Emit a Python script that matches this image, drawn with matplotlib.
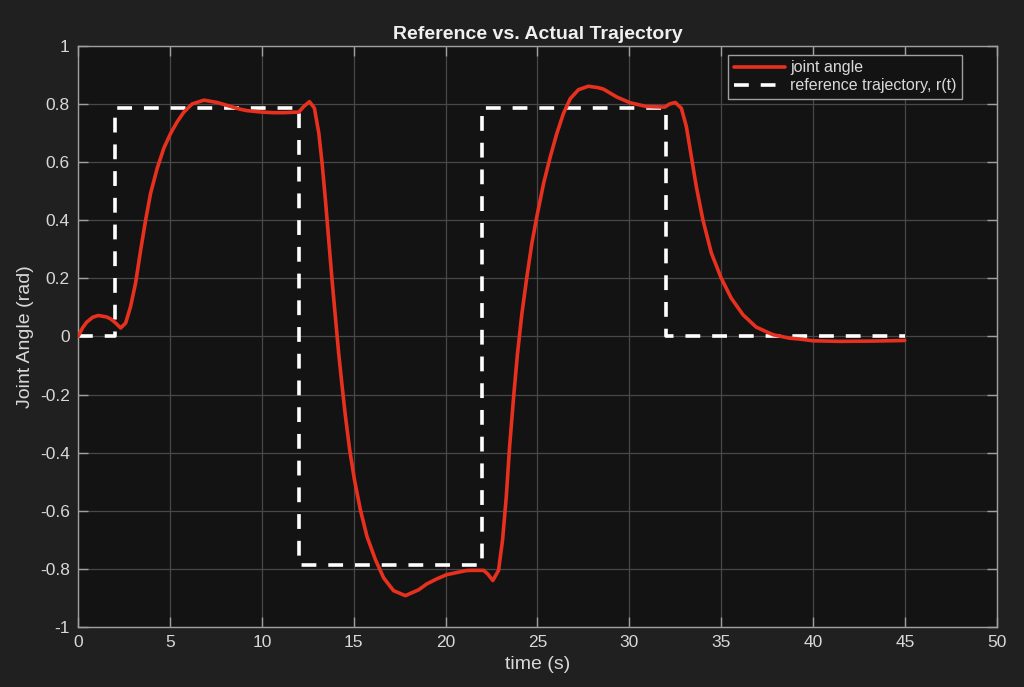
import matplotlib
matplotlib.use("Agg")
import matplotlib.pyplot as plt

plt.rcParams['font.family'] = ['Liberation Sans', 'DejaVu Sans']
plt.rcParams['axes.unicode_minus'] = False

# reference trajectory r(t) (step corners)
ref_t = [0, 2, 2, 12, 12, 22, 22, 32, 32, 45]
ref_v = [0, 0, 0.785, 0.785, -0.785, -0.785, 0.785, 0.785, 0, 0]

# joint angle
joint_t = [0.0, 0.25, 0.47, 0.8, 1.1, 1.56, 1.78, 2.05, 2.32, 2.59, 2.86, 3.13,
           3.41, 3.68, 3.95, 4.31, 4.67, 5.04, 5.4, 5.76, 6.21, 6.85, 7.57, 8.75,
           9.19, 10.0, 10.63, 11.2, 11.56, 12.01, 12.28, 12.59, 12.86, 13.1, 13.28,
           13.46, 13.64, 13.82, 14.0, 14.18, 14.37, 14.55, 14.78, 15.04, 15.36,
           15.72, 16.18, 16.63, 17.17, 17.81, 18.53, 18.97, 19.5, 20.05, 21.1,
           21.34, 22.07, 22.3, 22.57, 22.88, 23.1, 23.3, 23.48, 23.7, 23.91, 24.15,
           24.42, 24.69, 24.96, 25.33, 25.69, 26.05, 26.41, 26.78, 27.23, 27.77,
           28.3, 28.59, 29.31, 30.04, 30.94, 31.1, 31.92, 32.19, 32.5, 32.83, 33.1,
           33.37, 33.64, 34.0, 34.46, 35.0, 35.54, 36.18, 36.9, 37.81, 38.71, 39.26,
           40.0, 41.45, 43.26, 44.98]
joint_v = [0.0, 0.03, 0.049, 0.066, 0.072, 0.067, 0.06, 0.046, 0.029, 0.046,
           0.103, 0.183, 0.298, 0.401, 0.493, 0.579, 0.648, 0.699, 0.739, 0.772,
           0.8, 0.813, 0.805, 0.783, 0.777, 0.772, 0.77, 0.77, 0.771, 0.772, 0.791,
           0.808, 0.786, 0.70, 0.596, 0.47, 0.333, 0.195, 0.069, -0.057, -0.172,
           -0.275, -0.39, -0.493, -0.596, -0.688, -0.768, -0.831, -0.875, -0.892,
           -0.872, -0.852, -0.835, -0.82, -0.806, -0.805, -0.805, -0.818, -0.84,
           -0.805, -0.70, -0.553, -0.381, -0.209, -0.06, 0.078, 0.204, 0.319,
           0.411, 0.526, 0.617, 0.698, 0.767, 0.818, 0.849, 0.861, 0.856, 0.851,
           0.824, 0.804, 0.791, 0.791, 0.789, 0.8, 0.805, 0.785, 0.722, 0.619,
           0.516, 0.401, 0.287, 0.2, 0.132, 0.0745, 0.032, 0.006, -0.006, -0.009,
           -0.015, -0.017, -0.016, -0.014]

x_ticks = [0, 5, 10, 15, 20, 25, 30, 35, 40, 45, 50]
y_ticks = [-1, -0.8, -0.6, -0.4, -0.2, 0, 0.2, 0.4, 0.6, 0.8, 1]
y_tick_labels = ['-1', '-0.8', '-0.6', '-0.4', '-0.2', '0', '0.2', '0.4', '0.6', '0.8', '1']

fig = plt.figure(figsize=(10.24, 6.87), dpi=100, facecolor='#202020')
ax = fig.add_axes([0.0762, 0.0873, 0.8974, 0.846])
ax.set_facecolor('#131313')

ax.plot(joint_t, joint_v, color='#e8301f', lw=2.6, label='joint angle', zorder=3,
        solid_joinstyle='round', solid_capstyle='round')
ax.plot(ref_t, ref_v, color='white', lw=2.6, ls=(0, (4.1, 3.3)), label='reference trajectory, r(t)', zorder=2)

ax.set_xlim(0, 50)
ax.set_ylim(-1, 1)
ax.set_xticks(x_ticks)
ax.set_xticklabels([str(v) for v in x_ticks])
ax.set_yticks(y_ticks)
ax.set_yticklabels(y_tick_labels)
ax.grid(True, color='#484848', lw=0.9)
ax.set_axisbelow(True)
for s in ax.spines.values():
    s.set_color('#a0a0a0')
    s.set_linewidth(1.0)
ax.tick_params(direction='in', length=7, width=1, colors='#a0a0a0', labelcolor='#d8d8d8',
               labelsize=12.5, top=True, right=True, pad=6)

ax.set_xlabel('time (s)', color='#d8d8d8', fontsize=14, labelpad=4)
ax.set_ylabel('Joint Angle (rad)', color='#d8d8d8', fontsize=14, labelpad=4)
ax.set_title('Reference vs. Actual Trajectory', color='#f0f0f0', fontsize=14, fontweight='bold', pad=5)

leg = ax.legend(loc='upper right', bbox_to_anchor=(0.962, 0.985), fontsize=11.5, frameon=True,
                fancybox=False, handlelength=3.2, borderpad=0.35, labelspacing=0.2,
                handletextpad=0.3, borderaxespad=0.0)
leg.get_frame().set_facecolor('#131313')
leg.get_frame().set_edgecolor('#a0a0a0')
leg.get_frame().set_alpha(1)
for txt in leg.get_texts():
    txt.set_color('#d8d8d8')

fig.savefig('out.png', dpi=100, facecolor=fig.get_facecolor())
